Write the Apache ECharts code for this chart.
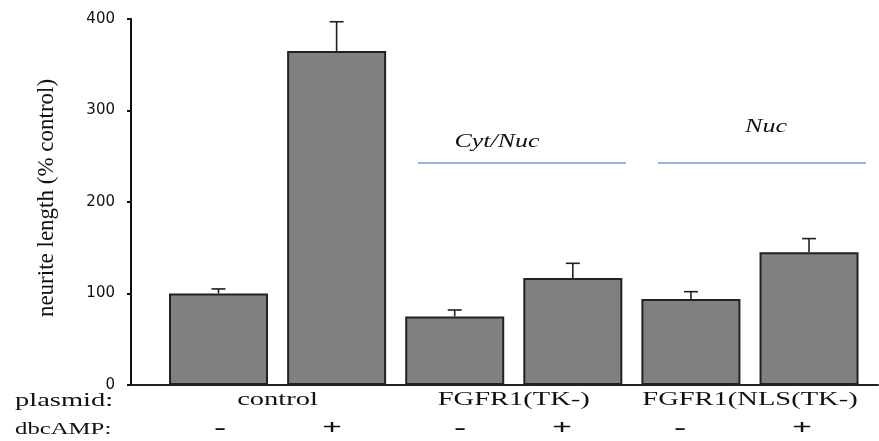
<!DOCTYPE html>
<html><head><meta charset="utf-8">
<script src="https://cdn.jsdelivr.net/npm/echarts@6/dist/echarts.min.js"></script>
<style>html,body{margin:0;padding:0;background:#fff}#c{width:879px;height:441px}</style>
</head><body><div id="c"></div>
<script>
// ---- data ----
const categories = ['control -', 'control +', 'FGFR1(TK-) -', 'FGFR1(TK-) +', 'FGFR1(NLS(TK-) -', 'FGFR1(NLS(TK-) +'];
const values = [100, 365, 75, 117, 94, 145];
const errors = [5, 32, 7, 16, 8, 15];
const yTicks = [0, 100, 200, 300, 400];
const plasmidLabels = ['control', 'FGFR1(TK-)', 'FGFR1(NLS(TK-)'];
const dbcAMPSigns = ['-', '+', '-', '+', '-', '+'];
const groupLabels = ['Cyt/Nuc', 'Nuc'];
const yTitle = 'neurite length (% control)';

// ---- layout ----
const signX = [220, 332, 460, 562, 680, 802];
const serif = '"Liberation Serif", "Times New Roman", serif';

const chart = echarts.init(document.getElementById('c'), null, {renderer: 'canvas'});
chart.setOption({
  animation: false,
  backgroundColor: '#fff',
  grid: {left: 131, right: 1, top: 19, bottom: 56, containLabel: false},
  xAxis: {
    type: 'value', min: -0.741, max: 5.584,
    axisLine: {show: true, onZero: false, lineStyle: {color: '#222', width: 2}},
    axisTick: {show: false}, axisLabel: {show: false}, splitLine: {show: false}
  },
  yAxis: {
    type: 'value', min: yTicks[0], max: yTicks[yTicks.length - 1], interval: 100,
    axisLine: {show: true, onZero: false, lineStyle: {color: '#111', width: 2}},
    axisTick: {show: true, length: 4, lineStyle: {color: '#111', width: 2}},
    axisLabel: {margin: 16, color: '#111', fontSize: 15, fontFamily: '"DejaVu Sans", sans-serif'},
    splitLine: {show: false}
  },
  series: [
    {
      type: 'bar', name: 'neurite length',
      data: values.map((v, i) => [i, v]),
      barWidth: 99,
      itemStyle: {color: '#808080', borderColor: '#222', borderWidth: 2}
    },
    {
      type: 'custom', name: 'SEM', z: 3,
      data: values.map((v, i) => [i, v, errors[i]]),
      encode: {x: 0, y: 1},
      renderItem: function (params, api) {
        const i = api.value(0), v = api.value(1), e = api.value(2);
        const p0 = api.coord([i, v]);
        const p1 = api.coord([i, v + e]);
        const st = {stroke: '#222', lineWidth: 1.6};
        return {type: 'group', children: [
          {type: 'line', shape: {x1: p0[0], y1: p0[1], x2: p1[0], y2: p1[1]}, style: st},
          {type: 'line', shape: {x1: p1[0] - 7, y1: p1[1], x2: p1[0] + 7, y2: p1[1]}, style: st}
        ]};
      }
    }
  ]
});

// annotations
const g = [];
function txt(text, x, y, font, align, sx, extra) {
  return Object.assign({
    type: 'text', x: x, y: y, scaleX: sx || 1, scaleY: 1,
    style: {text: text, font: font, fill: '#111', textAlign: align, align: align,
            textVerticalAlign: 'middle', verticalAlign: 'middle'}
  }, extra || {});
}
g.push(txt(yTitle, 47, 198, '23px ' + serif, 'center', 1, {rotation: Math.PI / 2}));
g.push(txt('plasmid:', 15, 401, '19px ' + serif, 'left', 1.5));
g.push(txt('dbcAMP:', 15, 430, '16.5px ' + serif, 'left', 1.5));
plasmidLabels.forEach((lab, k) => {
  const a = chart.convertToPixel({xAxisIndex: 0, yAxisIndex: 0}, [2 * k, 0]);
  const b = chart.convertToPixel({xAxisIndex: 0, yAxisIndex: 0}, [2 * k + 1, 0]);
  g.push(txt(lab, (a[0] + b[0]) / 2, 400, '19px ' + serif, 'center', 1.5));
});
dbcAMPSigns.forEach((s, i) => {
  g.push(txt(s, signX[i], 428, 'bold 22px ' + serif, 'center', 1.6));
});
// group annotations
g.push(txt(groupLabels[0], 497, 142, 'italic 18px ' + serif, 'center', 1.44));
g.push(txt(groupLabels[1], 766, 127, 'italic 18px ' + serif, 'center', 1.45));
g.push({type: 'line', shape: {x1: 418, y1: 163, x2: 626, y2: 163}, style: {stroke: '#8db4e2', lineWidth: 2}});
g.push({type: 'line', shape: {x1: 658, y1: 163, x2: 866, y2: 163}, style: {stroke: '#8db4e2', lineWidth: 2}});
chart.setOption({graphic: g});
</script></body></html>
